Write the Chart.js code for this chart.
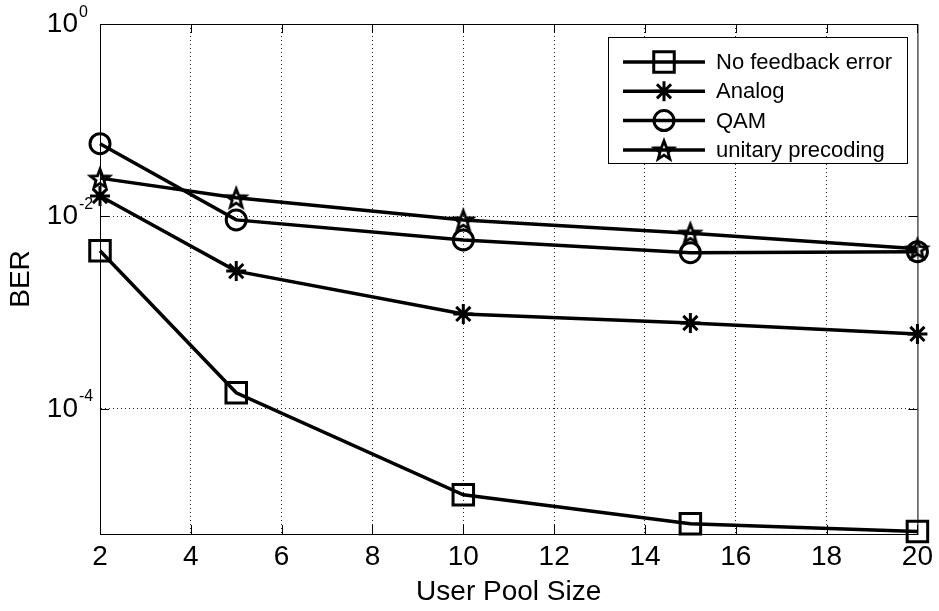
<!DOCTYPE html>
<html>
<head>
<meta charset="utf-8">
<script src="https://cdn.jsdelivr.net/npm/chart.js@4"></script>
<style>
  html, body { margin: 0; padding: 0; background: #fff; }
  #wrap { width: 939px; height: 611px; }
</style>
</head>
<body>
<div id="wrap"><canvas id="ber"></canvas></div>
<script>
// user pool sizes on the x axis
const poolSizes = [2, 5, 10, 15, 20];
// BER per scheme
const noFeedback = [4.4e-3, 1.47e-4, 1.28e-5, 6.4e-6, 5.3e-6];
const analog = [1.63e-2, 2.7e-3, 9.7e-4, 7.8e-4, 6.0e-4];
const qam = [5.7e-2, 9.2e-3, 5.7e-3, 4.2e-3, 4.3e-3];
const unitary = [2.5e-2, 1.56e-2, 9.2e-3, 6.7e-3, 4.6e-3];
const seriesNames = ['No feedback error', 'Analog', 'QAM', 'unitary precoding'];
const xTicks = [2, 4, 6, 8, 10, 12, 14, 16, 18, 20];
const yTicks = [1, 1e-2, 1e-4];
const yExponents = ['0', '-2', '-4'];

const FONT = '"Liberation Sans", Arial, sans-serif';

// pentagram marker (chart.js has no such point style)
function makePentagram(r, lw) {
    const c = document.createElement('canvas');
    const s = Math.ceil(2 * r + lw * 2 + 2);
    c.width = s; c.height = s;
    const g = c.getContext('2d');
    const cx = s / 2, cy = s / 2 + 1;
    g.beginPath();
    for (let i = 0; i < 10; i++) {
        const rad = i % 2 === 0 ? r : r * 0.42;
        const a = -Math.PI / 2 + i * Math.PI / 5;
        const px = cx + rad * Math.cos(a), py = cy + rad * Math.sin(a);
        if (i === 0) g.moveTo(px, py); else g.lineTo(px, py);
    }
    g.closePath();
    g.lineWidth = lw;
    g.strokeStyle = '#000';
    g.lineJoin = 'miter';
    g.stroke();
    return c;
}
const pentagram = makePentagram(10, 2.8);

const styles = [
    { pointStyle: 'rect', radius: 14.5 },
    { pointStyle: 'star', radius: 10 },
    { pointStyle: 'circle', radius: 10 },
    { pointStyle: pentagram, radius: 10 }
];

function toPoints(vals) {
    return poolSizes.map((x, i) => ({ x: x, y: vals[i] }));
}

const allSeries = [noFeedback, analog, qam, unitary];
const datasets = allSeries.map((vals, i) => ({
    label: seriesNames[i],
    data: toPoints(vals),
    borderColor: '#000',
    borderWidth: 3.5,
    backgroundColor: 'transparent',
    pointStyle: styles[i].pointStyle,
    pointRadius: styles[i].radius,
    pointHoverRadius: styles[i].radius,
    pointBorderWidth: 3,
    pointBorderColor: '#000',
    pointBackgroundColor: 'transparent',
    tension: 0,
    clip: false
}));

function drawMarker(ctx, st, x, y) {
    if (typeof st.pointStyle !== 'string') {
        ctx.drawImage(st.pointStyle, x - st.pointStyle.width / 2, y - st.pointStyle.height / 2);
        return;
    }
    Chart.helpers.drawPoint(ctx, { pointStyle: st.pointStyle, radius: st.radius, borderWidth: 3, rotation: 0 }, x, y);
}

// hide grid lines that sit on the box edges
function innerGrid(edges) {
    return ctx => (ctx.tick && edges.includes(ctx.tick.value)) ? 'rgba(0,0,0,0)' : '#222';
}

const matlabAxes = {
    id: 'matlabAxes',
    afterDraw(chart) {
        const ctx = chart.ctx;
        const a = chart.chartArea;
        const xs = chart.scales.x, ys = chart.scales.y;
        ctx.save();
        ctx.strokeStyle = '#000';
        ctx.lineWidth = 1;
        ctx.setLineDash([]);
        // box
        ctx.strokeRect(a.left + 0.5, a.top + 0.5, a.right - a.left, a.bottom - a.top);
        // inward ticks
        const tl = 9;
        ctx.beginPath();
        xTicks.forEach(v => {
            const px = Math.round(xs.getPixelForValue(v)) + 0.5;
            ctx.moveTo(px, a.bottom); ctx.lineTo(px, a.bottom - tl);
            ctx.moveTo(px, a.top); ctx.lineTo(px, a.top + tl);
        });
        yTicks.forEach(v => {
            const py = Math.round(ys.getPixelForValue(v)) + 0.5;
            ctx.moveTo(a.left, py); ctx.lineTo(a.left + tl, py);
            ctx.moveTo(a.right, py); ctx.lineTo(a.right - tl, py);
        });
        ctx.stroke();

        // y tick labels as 10^n
        ctx.fillStyle = '#000';
        yTicks.forEach((v, i) => {
            const py = ys.getPixelForValue(v);
            ctx.font = '28px ' + FONT;
            ctx.textAlign = 'right';
            ctx.textBaseline = 'middle';
            ctx.fillText('10', 78, py);
            ctx.font = '16px ' + FONT;
            ctx.textAlign = 'left';
            ctx.textBaseline = 'alphabetic';
            ctx.fillText(yExponents[i], 79, py - 7.5);
        });

        // legend
        const lx = 608, ly = 37, lw = 299, lh = 126;
        ctx.fillStyle = '#fff';
        ctx.fillRect(lx, ly, lw, lh);
        ctx.lineWidth = 1;
        ctx.strokeRect(lx + 0.5, ly + 0.5, lw, lh);
        ctx.font = '22px ' + FONT;
        ctx.textAlign = 'left';
        ctx.textBaseline = 'middle';
        seriesNames.forEach((name, i) => {
            const y = 62 + i * 29.3;
            ctx.strokeStyle = '#000';
            ctx.lineWidth = 3.5;
            ctx.beginPath();
            ctx.moveTo(623, y); ctx.lineTo(705, y);
            ctx.stroke();
            ctx.lineWidth = 3;
            ctx.fillStyle = 'transparent';
            ctx.strokeStyle = '#000';
            drawMarker(ctx, styles[i], 664, y);
            ctx.fillStyle = '#000';
            ctx.fillText(name, 716, y + 1);
        });
        ctx.restore();
    }
};

new Chart(document.getElementById('ber'), {
    type: 'line',
    data: { datasets: datasets },
    options: {
        responsive: true,
        maintainAspectRatio: false,
        animation: false,
        events: [],
        layout: { padding: { top: 24, right: 18, left: 0, bottom: 0 } },
        plugins: {
            legend: { display: false },
            tooltip: { enabled: false }
        },
        scales: {
            x: {
                type: 'linear',
                min: 2,
                max: 20,
                afterBuildTicks: s => { s.ticks = xTicks.map(v => ({ value: v })); },
                afterFit: s => { s.height = 77; },
                grid: {
                    color: innerGrid([2, 20]),
                    lineWidth: 1,
                    drawTicks: false
                },
                border: { display: true, color: '#000', width: 1, dash: [1, 3] },
                ticks: {
                    color: '#000',
                    padding: 6,
                    maxRotation: 0,
                    font: { family: FONT, size: 28 }
                },
                title: {
                    display: true,
                    text: 'User Pool Size',
                    color: '#000',
                    font: { family: FONT, size: 28 },
                    padding: { top: 0, bottom: 2 }
                }
            },
            y: {
                type: 'logarithmic',
                min: 5e-6,
                max: 1,
                afterBuildTicks: s => { s.ticks = yTicks.map(v => ({ value: v })); },
                afterFit: s => { s.width = 100; },
                grid: {
                    color: innerGrid([1]),
                    lineWidth: 1,
                    drawTicks: false
                },
                border: { display: true, color: '#000', width: 1, dash: [1, 3] },
                ticks: { display: false },
                title: {
                    display: true,
                    text: 'BER',
                    color: '#000',
                    font: { family: FONT, size: 28 },
                    padding: { top: 4, bottom: 0 }
                }
            }
        }
    },
    plugins: [matlabAxes]
});
</script>
</body>
</html>
